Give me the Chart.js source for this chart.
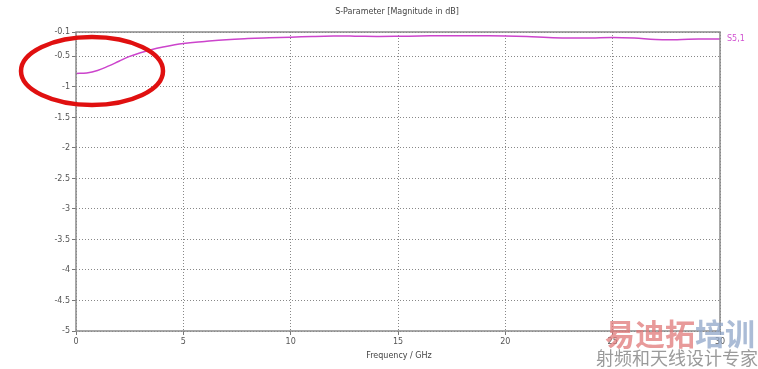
<!DOCTYPE html>
<html>
<head>
<meta charset="utf-8">
<script src="https://cdn.jsdelivr.net/npm/chart.js@4"></script>
<style>
  html, body { margin: 0; padding: 0; background: #fff; }
  #wrap { width: 758px; height: 369px; position: relative; }
</style>
</head>
<body>
<div id="wrap"><canvas id="c"></canvas></div>
<script>
// S5,1 读数 (GHz / dB)
const freq = [0, 0.5, 1, 1.5, 2, 2.5, 3, 3.5, 4, 5, 6, 7, 8, 9, 10, 11, 12, 13, 14, 15,
  16, 17, 18, 19, 20, 21, 22, 23, 24, 25, 26, 27, 28, 29, 30];
const s51 = [-0.78, -0.77, -0.73, -0.66, -0.58, -0.5, -0.44, -0.39, -0.35, -0.29, -0.255,
  -0.225, -0.207, -0.195, -0.185, -0.174, -0.167, -0.168, -0.172, -0.17,
  -0.165, -0.161, -0.162, -0.163, -0.166, -0.175, -0.19, -0.2, -0.197, -0.19,
  -0.2, -0.222, -0.225, -0.215, -0.215];
const yTicks = [-5, -4.5, -4, -3.5, -3, -2.5, -2, -1.5, -1, -0.5, -0.1];
const xTicks = [0, 5, 10, 15, 20, 25, 30];

const FONT = 'DejaVu Sans';
const pts = freq.map((f, i) => ({ x: f, y: s51[i] }));

// 边框、标题、红圈和水印
const extras = {
  id: 'extras',
  afterDatasetsDraw(chart) {
    const { ctx, chartArea: a } = chart;
    ctx.save();
    ctx.strokeStyle = '#8a8a8a';
    ctx.lineWidth = 1.5;
    ctx.strokeRect(a.left, a.top, a.right - a.left, a.bottom - a.top);

    ctx.fillStyle = '#444';
    ctx.font = '8px ' + FONT;
    ctx.textAlign = 'center';
    ctx.textBaseline = 'middle';
    ctx.fillText('S-Parameter [Magnitude in dB]', 397, 12);
    ctx.fillText('Frequency / GHz', 399, 356);

    ctx.fillStyle = '#d050d0';
    ctx.textAlign = 'left';
    ctx.fillText('S5,1', 727, 39);

    // 红色椭圆
    ctx.strokeStyle = '#e01010';
    ctx.lineWidth = 4.5;
    ctx.beginPath();
    ctx.ellipse(92, 71, 71, 34, 0, 0, Math.PI * 2);
    ctx.stroke();

    // 水印
    ctx.globalAlpha = 0.75;
    ctx.font = 'bold 30px "Noto Sans CJK SC"';
    ctx.textBaseline = 'alphabetic';
    ctx.fillStyle = '#e07878';
    ctx.fillText('易迪拓', 605, 345);
    const w = ctx.measureText('易迪拓').width;
    ctx.fillStyle = '#8fa6c8';
    ctx.fillText('培训', 605 + w, 345);
    ctx.globalAlpha = 0.85;
    ctx.font = '18px "Noto Sans CJK SC"';
    ctx.fillStyle = '#888';
    ctx.fillText('射频和天线设计专家', 596, 365);
    ctx.restore();
  }
};

new Chart(document.getElementById('c'), {
  type: 'line',
  data: {
    datasets: [{
      label: 'S5,1',
      data: pts,
      borderColor: '#cc44cc',
      borderWidth: 1.5,
      pointRadius: 0,
      tension: 0.4,
      fill: false
    }]
  },
  options: {
    responsive: true,
    maintainAspectRatio: false,
    animation: false,
    layout: { padding: { top: 32, right: 38, left: 0, bottom: 0 } },
    plugins: { legend: { display: false }, tooltip: { enabled: false } },
    scales: {
      x: {
        type: 'linear',
        min: 0, max: 30,
        afterBuildTicks(s) { s.ticks = xTicks.map(v => ({ value: v })); },
        afterFit(s) { s.height = 38; },
        grid: { color: '#888', tickLength: 4, tickBorderDash: [], tickColor: '#777' },
        border: { display: false, dash: [1, 2] },
        ticks: { color: '#555', font: { family: FONT, size: 8 }, padding: 2, maxRotation: 0 }
      },
      y: {
        min: -5, max: -0.1,
        afterBuildTicks(s) { s.ticks = yTicks.map(v => ({ value: v })); },
        afterFit(s) { s.width = 76; },
        grid: { color: '#888', tickLength: 4, tickBorderDash: [], tickColor: '#777' },
        border: { display: false, dash: [1, 2] },
        ticks: { color: '#555', font: { family: FONT, size: 8 }, padding: 2,
          callback: v => String(v) }
      }
    }
  },
  plugins: [extras]
});
</script>
</body>
</html>
